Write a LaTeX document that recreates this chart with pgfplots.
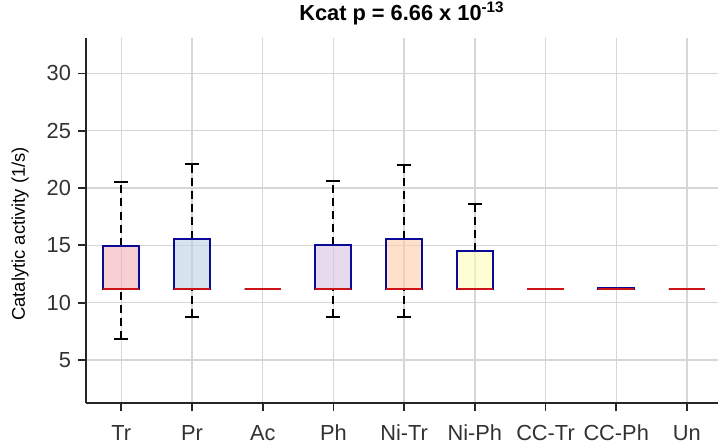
\documentclass[border=0pt]{standalone}
\usepackage{fontspec}
\setmainfont{Liberation Sans}
\usepackage{pgfplots}
\pgfplotsset{compat=1.18}
\usepgfplotslibrary{statistics}
\definecolor{gridc}{RGB}{214,214,214}
\definecolor{axc}{RGB}{38,38,38}
\definecolor{tickc}{RGB}{50,50,50}
\definecolor{boxedge}{RGB}{10,10,150}
\definecolor{medc}{RGB}{205,20,20}
\definecolor{cTr}{RGB}{243,177,183}
\definecolor{cPr}{RGB}{187,210,230}
\definecolor{cPh}{RGB}{213,193,223}
\definecolor{cNiTr}{RGB}{252,205,168}
\definecolor{cNiPh}{RGB}{253,253,183}
\definecolor{cNone}{RGB}{255,255,255}
\pgfplotsset{
  bx/.style={
    boxplot/draw direction=y,
    boxplot/box extend=0.51,
    boxplot/whisker extend=0.2,
    boxplot/every box/.style={draw=boxedge, line width=1pt, fill=#1, fill opacity=0.6},
    boxplot/every median/.style={draw=medc, line width=1pt},
    boxplot/draw/lower whisker/.code={%
      \draw[black, line width=1pt, dash pattern=on 4pt off 2.6pt]
        (boxplot cs:\pgfplotsboxplotvalue{lower whisker}) -- (boxplot cs:\pgfplotsboxplotvalue{lower quartile});
      \draw[black, line width=1pt, solid]
        (boxplot whisker cs:\pgfplotsboxplotvalue{lower whisker},0) -- (boxplot whisker cs:\pgfplotsboxplotvalue{lower whisker},1);
    },
    boxplot/draw/upper whisker/.code={%
      \draw[black, line width=1pt, dash pattern=on 4pt off 2.6pt]
        (boxplot cs:\pgfplotsboxplotvalue{upper quartile}) -- (boxplot cs:\pgfplotsboxplotvalue{upper whisker});
      \draw[black, line width=1pt, solid]
        (boxplot whisker cs:\pgfplotsboxplotvalue{upper whisker},0) -- (boxplot whisker cs:\pgfplotsboxplotvalue{upper whisker},1);
    },
  },
  nolow/.style={boxplot/draw/lower whisker/.code={}},
  nowhisk/.style={boxplot/draw/lower whisker/.code={}, boxplot/draw/upper whisker/.code={}},
}
\begin{document}
\begin{tikzpicture}
\useasboundingbox (-43pt,-21.65pt) rectangle (316pt,201.5pt);
\begin{axis}[
  scale only axis, width=316pt, height=182.3pt,
  xmin=0.5, xmax=9.44, ymin=1.247, ymax=33.06,
  axis x line=bottom, axis y line=left,
  axis line style={-, draw=axc, line width=1pt},
  xtick={1,2,3,4,5,6,7,8,9},
  xticklabels={Tr,Pr,Ac,Ph,Ni-Tr,Ni-Ph,CC-Tr,CC-Ph,Un},
  ytick={5,10,15,20,25,30},
  tick align=outside, major tick length=4pt,
  tick style={draw=axc, line width=0.9pt},
  grid=major, major grid style={draw=gridc, line width=0.7pt},
  ticklabel style={font=\fontsize{10.9}{12}\selectfont, text=tickc},
  xticklabel style={anchor=base, yshift=-14.65pt},
  /pgf/number format/assume math mode=true,
  ylabel={Catalytic activity (1/s)},
  ylabel style={font=\fontsize{9.2}{11}\selectfont, text=black, at={(axis description cs:-0.1044,0.464)}, anchor=center},
  title={\bfseries Kcat p = 6.66 x 10\textsuperscript{-13}},
  title style={font=\fontsize{10.9}{13}\selectfont, at={(axis description cs:0.5,1)}, anchor=base, yshift=3pt},
]
\addplot[bx=cTr, boxplot prepared={draw position=1, lower whisker=6.79, lower quartile=11.16, median=11.16, upper quartile=14.94, upper whisker=20.52}] coordinates {};
\addplot[bx=cPr, boxplot prepared={draw position=2, lower whisker=8.74, lower quartile=11.16, median=11.16, upper quartile=15.59, upper whisker=22.13}] coordinates {};
\addplot[bx=cNone, nowhisk, boxplot prepared={draw position=3, lower whisker=11.16, lower quartile=11.16, median=11.16, upper quartile=11.16, upper whisker=11.16}] coordinates {};
\addplot[bx=cPh, boxplot prepared={draw position=4, lower whisker=8.74, lower quartile=11.16, median=11.16, upper quartile=15.0, upper whisker=20.6}] coordinates {};
\addplot[bx=cNiTr, boxplot prepared={draw position=5, lower whisker=8.74, lower quartile=11.16, median=11.16, upper quartile=15.59, upper whisker=21.98}] coordinates {};
\addplot[bx=cNiPh, nolow, boxplot prepared={draw position=6, lower whisker=11.16, lower quartile=11.16, median=11.16, upper quartile=14.48, upper whisker=18.64}] coordinates {};
\addplot[bx=cNone, nowhisk, boxplot prepared={draw position=7, lower whisker=11.16, lower quartile=11.16, median=11.16, upper quartile=11.16, upper whisker=11.16}] coordinates {};
\addplot[bx=cNone, nolow, boxplot prepared={draw position=8, lower whisker=11.16, lower quartile=11.16, median=11.16, upper quartile=11.24, upper whisker=11.32}] coordinates {};
\addplot[bx=cNone, nowhisk, boxplot prepared={draw position=9, lower whisker=11.16, lower quartile=11.16, median=11.16, upper quartile=11.16, upper whisker=11.16}] coordinates {};
\end{axis}
\end{tikzpicture}
\end{document}
